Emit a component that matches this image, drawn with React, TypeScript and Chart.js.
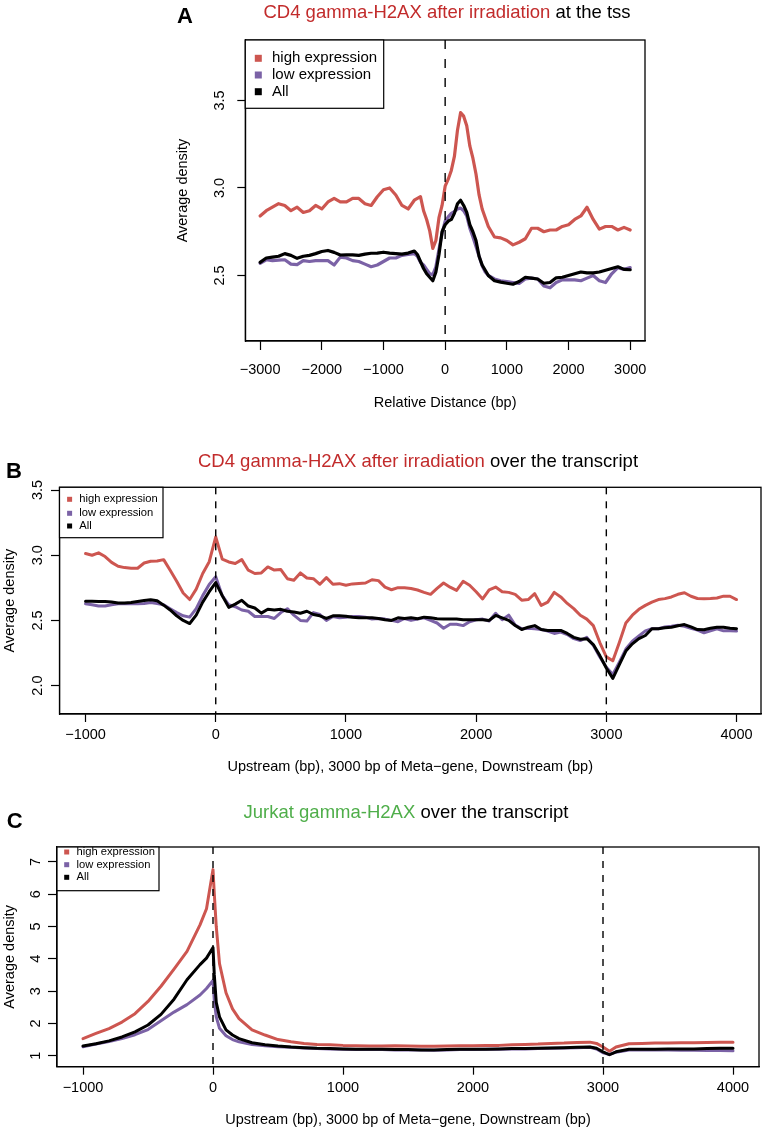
import React, { useEffect, useRef } from 'react';
import { Chart, registerables } from 'chart.js';

Chart.register(...registerables);

const FONT = '"Liberation Sans", Arial, Helvetica, sans-serif';
Chart.defaults.font.family = FONT;

const RED = '#cd5650';
const PURPLE = '#7b62a6';
const BLACK = '#000000';
const TITLE_RED = '#c22b2b';
const TITLE_GREEN = '#4fae4a';

const seriesLabels = ['high expression', 'low expression', 'All'];
const yLabel = 'Average density';

// ---------------- Panel A : at the TSS ----------------
const xA = [
  -3000, -2900, -2800, -2700, -2600, -2500, -2400, -2300, -2200, -2100,
  -2000, -1900, -1800, -1700, -1600, -1500, -1400, -1300, -1200, -1100,
  -1000, -900, -800, -700, -600,
  -500, -450, -400, -350, -300, -250, -200, -150, -100, -50,
  0, 50, 100, 150, 200, 250, 300, 350, 400, 450,
  500, 550, 600, 650, 700,
  800, 900, 1000, 1100, 1200, 1300, 1400, 1500, 1600, 1700,
  1800, 1900, 2000, 2100, 2200, 2300, 2400, 2500, 2600, 2700,
  2800, 2900, 3000,
];
const highA = [
  2.84, 2.87, 2.89, 2.91, 2.90, 2.87, 2.89, 2.86, 2.87, 2.90,
  2.88, 2.92, 2.94, 2.92, 2.92, 2.94, 2.94, 2.91, 2.90, 2.95,
  2.99, 3.00, 2.96, 2.90, 2.88,
  2.93, 2.94, 2.95, 2.87, 2.82, 2.755, 2.655, 2.70, 2.83, 2.90,
  3.01, 3.05, 3.10, 3.18, 3.33, 3.43, 3.41, 3.355, 3.24, 3.17,
  3.08, 2.96, 2.88, 2.83, 2.78,
  2.72, 2.715, 2.70, 2.675, 2.69, 2.71, 2.77, 2.77, 2.75, 2.76,
  2.76, 2.78, 2.79, 2.82, 2.84, 2.89, 2.82, 2.765, 2.78, 2.78,
  2.76, 2.775, 2.76,
];
const lowA = [
  2.57, 2.59, 2.585, 2.588, 2.59, 2.565, 2.562, 2.585, 2.58, 2.585,
  2.585, 2.585, 2.56, 2.605, 2.60, 2.585, 2.58, 2.565, 2.55, 2.56,
  2.58, 2.60, 2.60, 2.615, 2.62,
  2.625, 2.61, 2.575, 2.56, 2.535, 2.51, 2.505, 2.55, 2.65, 2.74,
  2.81, 2.835, 2.855, 2.865, 2.88, 2.885, 2.87, 2.84, 2.77, 2.72,
  2.665, 2.61, 2.555, 2.52, 2.50,
  2.48, 2.47, 2.465, 2.46, 2.455, 2.48, 2.485, 2.48, 2.44, 2.43,
  2.46, 2.475, 2.475, 2.475, 2.47, 2.485, 2.50, 2.47, 2.46, 2.51,
  2.545, 2.535, 2.545,
];
const allA = [
  2.575, 2.60, 2.605, 2.61, 2.625, 2.615, 2.598, 2.61, 2.615, 2.625,
  2.637, 2.643, 2.632, 2.617, 2.618, 2.618, 2.615, 2.622, 2.627, 2.628,
  2.633, 2.628, 2.625, 2.622, 2.628,
  2.64, 2.62, 2.58, 2.54, 2.51, 2.49, 2.47, 2.52, 2.62, 2.75,
  2.79, 2.81, 2.82, 2.855, 2.91, 2.93, 2.90, 2.86, 2.79, 2.75,
  2.70, 2.61, 2.56, 2.53, 2.50,
  2.47, 2.462, 2.456, 2.45, 2.466, 2.49, 2.485, 2.48, 2.456, 2.46,
  2.487, 2.49, 2.50, 2.51, 2.52, 2.515, 2.515, 2.52, 2.53, 2.54,
  2.55, 2.535, 2.533,
];
const xTicksA = [-3000, -2000, -1000, 0, 1000, 2000, 3000];
const yTicksA = [2.5, 3.0, 3.5];
const markersA = [0];
const titleA = [
  { text: 'CD4 gamma-H2AX after irradiation', color: TITLE_RED },
  { text: ' at the tss', color: BLACK },
];
const xLabelA = 'Relative Distance (bp)';

// ---------------- Panel B : CD4 over the transcript ----------------
const xB = [
  -1000, -950, -900, -850, -800, -750, -700, -650, -600, -550,
  -500, -450, -400, -350, -300, -250, -200, -150, -100, -50,
  0, 50, 100, 150, 200, 250, 300, 350, 400, 450,
  500, 550, 600, 650, 700, 750, 800, 850, 900, 950,
  1000, 1050, 1100, 1150, 1200, 1250, 1300, 1350, 1400, 1450,
  1500, 1550, 1600, 1650, 1700, 1750, 1800, 1850, 1900, 1950,
  2000, 2050, 2100, 2150, 2200, 2250, 2300, 2350, 2400, 2450,
  2500, 2550, 2600, 2650, 2700, 2750, 2800, 2850, 2900, 2950,
  3000, 3050, 3100, 3150, 3200, 3250, 3300, 3350, 3400, 3450,
  3500, 3550, 3600, 3650, 3700, 3750, 3800, 3850, 3900, 3950,
  4000,
];
const highB = [
  3.013, 3.00, 3.018, 2.99, 2.945, 2.915, 2.905, 2.90, 2.90, 2.94,
  2.954, 2.955, 2.966, 2.884, 2.80, 2.71, 2.66, 2.74, 2.86, 2.95,
  3.14, 2.97, 2.948, 2.936, 2.966, 2.885, 2.86, 2.864, 2.91, 2.886,
  2.89, 2.82, 2.808, 2.864, 2.825, 2.82, 2.777, 2.828, 2.777, 2.782,
  2.77, 2.78, 2.783, 2.787, 2.812, 2.805, 2.755, 2.735, 2.751, 2.75,
  2.745, 2.733, 2.715, 2.70, 2.745, 2.787, 2.755, 2.73, 2.80, 2.77,
  2.72, 2.665, 2.735, 2.756, 2.72, 2.715, 2.70, 2.655, 2.66, 2.705,
  2.615, 2.64, 2.715, 2.68, 2.63, 2.59, 2.54, 2.51, 2.46, 2.33,
  2.22, 2.19, 2.33, 2.48, 2.54, 2.585, 2.615, 2.64, 2.66, 2.667,
  2.68, 2.70, 2.712, 2.685, 2.668, 2.666, 2.668, 2.672, 2.686, 2.685,
  2.66,
];
const lowB = [
  2.628, 2.62, 2.61, 2.61, 2.62, 2.628, 2.628, 2.63, 2.627, 2.63,
  2.637, 2.63, 2.62, 2.59, 2.56, 2.535, 2.525, 2.59, 2.69, 2.775,
  2.835, 2.69, 2.62, 2.605, 2.58, 2.57, 2.53, 2.53, 2.53, 2.515,
  2.56, 2.59, 2.54, 2.50, 2.495, 2.56, 2.545, 2.50, 2.53, 2.52,
  2.525, 2.53, 2.53, 2.525, 2.51, 2.515, 2.51, 2.50, 2.49, 2.515,
  2.50, 2.51, 2.52, 2.50, 2.48, 2.44, 2.47, 2.47, 2.46, 2.49,
  2.505, 2.51, 2.495, 2.555, 2.505, 2.54, 2.465, 2.435, 2.44, 2.435,
  2.43, 2.418, 2.40, 2.41, 2.392, 2.36, 2.345, 2.37, 2.31, 2.22,
  2.14, 2.085, 2.18, 2.28, 2.34, 2.38, 2.42, 2.436, 2.436, 2.45,
  2.455, 2.462, 2.455, 2.44, 2.425, 2.405, 2.42, 2.435, 2.42, 2.42,
  2.418,
];
const allB = [
  2.646, 2.646, 2.645, 2.645, 2.641, 2.633, 2.633, 2.637, 2.645, 2.652,
  2.659, 2.65, 2.617, 2.58, 2.535, 2.50, 2.476, 2.54, 2.64, 2.72,
  2.79, 2.69, 2.60, 2.625, 2.654, 2.61, 2.595, 2.556, 2.585, 2.58,
  2.585, 2.57, 2.565, 2.555, 2.57, 2.545, 2.535, 2.515, 2.535, 2.535,
  2.532, 2.525, 2.52, 2.52, 2.52, 2.515, 2.505, 2.50, 2.52, 2.515,
  2.52, 2.513, 2.525, 2.52, 2.513, 2.51, 2.51, 2.51, 2.505, 2.505,
  2.505, 2.505, 2.50, 2.538, 2.52, 2.50, 2.461, 2.43, 2.448, 2.46,
  2.43, 2.423, 2.423, 2.423, 2.40, 2.37, 2.355, 2.36, 2.315, 2.23,
  2.135, 2.055, 2.16, 2.265, 2.32, 2.36, 2.384, 2.436, 2.436, 2.443,
  2.448, 2.459, 2.468, 2.45, 2.43, 2.428, 2.44, 2.448, 2.448, 2.44,
  2.436,
];
const xTicksB = [-1000, 0, 1000, 2000, 3000, 4000];
const yTicksB = [2.0, 2.5, 3.0, 3.5];
const markersB = [0, 3000];
const titleB = [
  { text: 'CD4 gamma-H2AX after irradiation', color: TITLE_RED },
  { text: ' over the transcript', color: BLACK },
];
const xLabelB = 'Upstream (bp), 3000 bp of Meta\u2212gene, Downstream (bp)';

// ---------------- Panel C : Jurkat over the transcript ----------------
const xC = [
  -1000, -900, -800, -700, -600, -500, -400, -300, -200, -100,
  -50, 0, 10, 25, 50, 100, 150, 200,
  300, 400, 500, 600, 700, 800, 900, 1000, 1100, 1200,
  1300, 1400, 1500, 1600, 1700, 1800, 1900, 2000, 2100, 2200,
  2300, 2400, 2500, 2600, 2700, 2800, 2900,
  2950, 3000, 3050, 3100,
  3200, 3300, 3400, 3500, 3600, 3700, 3800, 3900, 4000,
];
const highC = [
  1.53, 1.69, 1.84, 2.04, 2.30, 2.68, 3.15, 3.68, 4.23, 5.05,
  5.55, 6.76, 6.0, 5.0, 3.85, 2.95, 2.45, 2.15,
  1.80, 1.64, 1.50, 1.43, 1.38, 1.35, 1.34, 1.32, 1.31, 1.30,
  1.30, 1.31, 1.30, 1.29, 1.29, 1.30, 1.31, 1.31, 1.32, 1.32,
  1.34, 1.35, 1.36, 1.38, 1.39, 1.41, 1.42,
  1.38, 1.27, 1.14, 1.27,
  1.37, 1.38, 1.39, 1.39, 1.40, 1.40, 1.41, 1.42, 1.42,
];
const lowC = [
  1.28, 1.36, 1.44, 1.53, 1.65, 1.81, 2.08, 2.35, 2.58, 2.88,
  3.08, 3.33, 2.7, 2.2, 1.85, 1.62, 1.50, 1.43,
  1.35, 1.31, 1.28, 1.26, 1.24, 1.22, 1.21, 1.20, 1.19, 1.19,
  1.19, 1.18, 1.18, 1.18, 1.17, 1.18, 1.19, 1.19, 1.20, 1.20,
  1.21, 1.21, 1.22, 1.23, 1.24, 1.25, 1.26,
  1.21, 1.09, 1.04, 1.11,
  1.18, 1.18, 1.18, 1.18, 1.17, 1.17, 1.16, 1.16, 1.15,
];
const allC = [
  1.30, 1.37, 1.46, 1.58, 1.74, 1.95, 2.28, 2.75, 3.35, 3.82,
  4.02, 4.35, 3.5, 2.65, 2.2, 1.80, 1.64, 1.53,
  1.40, 1.34, 1.30, 1.27, 1.25, 1.23, 1.22, 1.21, 1.20, 1.20,
  1.20, 1.19, 1.19, 1.18, 1.18, 1.19, 1.20, 1.20, 1.20, 1.21,
  1.22, 1.22, 1.23, 1.24, 1.25, 1.26, 1.27,
  1.23, 1.12, 1.03, 1.12,
  1.20, 1.20, 1.20, 1.21, 1.21, 1.21, 1.22, 1.23, 1.23,
];
const xTicksC = [-1000, 0, 1000, 2000, 3000, 4000];
const yTicksC = [1, 2, 3, 4, 5, 6, 7];
const markersC = [0, 3000];
const titleC = [
  { text: 'Jurkat gamma-H2AX', color: TITLE_GREEN },
  { text: ' over the transcript', color: BLACK },
];
const xLabelC = 'Upstream (bp), 3000 bp of Meta\u2212gene, Downstream (bp)';

// ---------------- Layout specs (positions / styles only) ----------------
type Seg = { text: string; color: string };
type Spec = {
  letter: string; title: Seg[]; xs: number[]; high: number[]; low: number[]; all: number[];
  xTicks: number[]; yTicks: number[]; markers: number[]; xLabel: string; yDecimals: number;
  top: number; height: number; xMin: number; xMax: number; yMin: number; yMax: number;
  pad: { left: number; right: number; top: number; bottom: number };
  yWidth: number; xHeight: number; yTickLen: number; yTickPad: number; xTickLen: number; xTickPad: number;
  yTitlePad: number; xTitlePad: number; titleX: number; titleY: number; letterX: number; letterY: number;
  legend: { w: number; h: number; markX: number; textX: number; rows: number[]; font: number; mark: number };
  lineWidth: number; dash: number[];
};

const specs: Spec[] = [
  {
    letter: 'A', title: titleA, xs: xA, high: highA, low: lowA, all: allA,
    xTicks: xTicksA, yTicks: yTicksA, markers: markersA, xLabel: xLabelA, yDecimals: 1,
    top: 0, height: 420, xMin: -3240, xMax: 3240, yMin: 2.126, yMax: 3.845,
    pad: { left: 0, right: 118, top: 40, bottom: 0 },
    yWidth: 245.3, xHeight: 79, yTickLen: 8, yTickPad: 7.2, xTickLen: 9, xTickPad: 11.3,
    yTitlePad: 174.3, xTitlePad: 8.3, titleX: 447, titleY: 13, letterX: 185, letterY: 17,
    legend: { w: 138.4, h: 68.3, markX: 13, textX: 26.7, rows: [18.3, 35, 51.7], font: 15, mark: 7 },
    lineWidth: 3.2, dash: [9, 10],
  },
  {
    letter: 'B', title: titleB, xs: xB, high: highB, low: lowB, all: allB,
    xTicks: xTicksB, yTicks: yTicksB, markers: markersB, xLabel: xLabelB, yDecimals: 1,
    top: 420, height: 360, xMin: -1200, xMax: 4188, yMin: 1.782, yMax: 3.521,
    pad: { left: 0, right: 2, top: 67.3, bottom: 0 },
    yWidth: 59.5, xHeight: 66, yTickLen: 8.5, yTickPad: 2.9, xTickLen: 8, xTickPad: 4.3,
    yTitlePad: 1.3, xTitlePad: 4.3, titleX: 418, titleY: 42, letterX: 14, letterY: 52,
    legend: { w: 103.5, h: 50.4, markX: 10.1, textX: 19.8, rows: [12, 26, 38.7], font: 11.2, mark: 5 },
    lineWidth: 3, dash: [7, 7],
  },
  {
    letter: 'C', title: titleC, xs: xC, high: highC, low: lowC, all: allC,
    xTicks: xTicksC, yTicks: yTicksC, markers: markersC, xLabel: xLabelC, yDecimals: 0,
    top: 780, height: 349, xMin: -1200, xMax: 4200, yMin: 0.66, yMax: 7.46,
    pad: { left: 0, right: 4, top: 67, bottom: 0 },
    yWidth: 57, xHeight: 62.3, yTickLen: 9, yTickPad: 8, xTickLen: 8, xTickPad: 4.6,
    yTitlePad: 1.3, xTitlePad: 0.3, titleX: 406, titleY: 33, letterX: 14.6, letterY: 42,
    legend: { w: 102, h: 43.7, markX: 9.7, textX: 19.5, rows: [5, 17.7, 30.3], font: 11.2, mark: 5 },
    lineWidth: 3, dash: [7, 7],
  },
];

const AXIS_FONT = 14.5;
const TICK_FONT = 14.5;
const TITLE_FONT = 18.5;

function fmtX(v: number) {
  return v < 0 ? '\u2212' + Math.abs(v) : String(v);
}

function decorPlugin(spec: Spec) {
  return {
    id: 'decor' + spec.letter,
    afterDatasetsDraw(chart: any) {
      const { ctx, chartArea, scales } = chart;
      const ca = chartArea;
      ctx.save();
      // dashed marker lines
      ctx.strokeStyle = '#000';
      ctx.lineWidth = 1.4;
      ctx.setLineDash(spec.dash);
      spec.markers.forEach((m) => {
        const px = scales.x.getPixelForValue(m);
        ctx.beginPath();
        ctx.moveTo(px, ca.top);
        ctx.lineTo(px, ca.bottom);
        ctx.stroke();
      });
      ctx.setLineDash([]);
      // plot box
      ctx.lineWidth = 1.3;
      ctx.strokeRect(ca.left, ca.top, ca.right - ca.left, ca.bottom - ca.top);
      // legend
      const lg = spec.legend;
      ctx.fillStyle = '#fff';
      ctx.fillRect(ca.left, ca.top, lg.w, lg.h);
      ctx.lineWidth = 1.2;
      ctx.strokeStyle = '#000';
      ctx.strokeRect(ca.left, ca.top, lg.w, lg.h);
      ctx.font = `${lg.font}px ${FONT}`;
      ctx.textBaseline = 'middle';
      ctx.textAlign = 'left';
      chart.data.datasets.forEach((ds: any, i: number) => {
        const cy = ca.top + lg.rows[i];
        ctx.fillStyle = ds.borderColor;
        ctx.fillRect(ca.left + lg.markX - lg.mark / 2, cy - lg.mark / 2, lg.mark, lg.mark);
        ctx.fillStyle = '#000';
        ctx.fillText(ds.label, ca.left + lg.textX, cy);
      });
      // title (mixed colours)
      ctx.font = `${TITLE_FONT}px ${FONT}`;
      const total = spec.title.reduce((s, seg) => s + ctx.measureText(seg.text).width, 0);
      let x = spec.titleX - total / 2;
      spec.title.forEach((seg) => {
        ctx.fillStyle = seg.color;
        ctx.fillText(seg.text, x, spec.titleY);
        x += ctx.measureText(seg.text).width;
      });
      // panel letter
      ctx.font = `bold 22px ${FONT}`;
      ctx.textAlign = 'center';
      ctx.fillStyle = '#000';
      ctx.fillText(spec.letter, spec.letterX, spec.letterY);
      ctx.restore();
    },
  };
}

function Panel({ spec }: { spec: Spec }) {
  const ref = useRef<HTMLCanvasElement>(null);
  useEffect(() => {
    if (!ref.current) return;
    const mk = (label: string, vals: number[], color: string, order: number) => ({
      label,
      data: spec.xs.map((x, i) => ({ x, y: vals[i] })),
      borderColor: color,
      backgroundColor: color,
      borderWidth: spec.lineWidth,
      pointRadius: 0,
      tension: 0,
      fill: false,
      order,
      borderJoinStyle: 'round' as const,
      borderCapStyle: 'round' as const,
    });
    const gridOpts = (len: number) => ({
      display: true,
      drawOnChartArea: false,
      drawTicks: true,
      tickLength: len,
      color: '#000',
      tickColor: '#000',
      tickWidth: 1.2,
    });
    const chart = new Chart(ref.current, {
      type: 'line',
      data: {
        datasets: [
          mk(seriesLabels[0], spec.high, RED, 3),
          mk(seriesLabels[1], spec.low, PURPLE, 2),
          mk(seriesLabels[2], spec.all, BLACK, 1),
        ],
      },
      options: {
        animation: false,
        responsive: false,
        maintainAspectRatio: false,
        devicePixelRatio: 1,
        events: [],
        layout: { padding: spec.pad },
        plugins: { legend: { display: false }, title: { display: false }, tooltip: { enabled: false } },
        scales: {
          x: {
            type: 'linear',
            min: spec.xMin,
            max: spec.xMax,
            afterBuildTicks: (s: any) => { s.ticks = spec.xTicks.map((v) => ({ value: v })); },
            afterFit: (s: any) => { s.height = spec.xHeight; },
            grid: gridOpts(spec.xTickLen),
            border: { display: true, color: '#000', width: 1.2 },
            ticks: {
              autoSkip: false, minRotation: 0, maxRotation: 0, padding: spec.xTickPad, color: '#000',
              font: { family: FONT, size: TICK_FONT },
              callback: (v: any) => fmtX(Number(v)),
            },
            title: {
              display: true, text: spec.xLabel, color: '#000',
              font: { family: FONT, size: AXIS_FONT },
              padding: { top: 0, bottom: spec.xTitlePad },
            },
          },
          y: {
            type: 'linear',
            min: spec.yMin,
            max: spec.yMax,
            afterBuildTicks: (s: any) => { s.ticks = spec.yTicks.map((v) => ({ value: v })); },
            afterFit: (s: any) => { s.width = spec.yWidth; },
            grid: gridOpts(spec.yTickLen),
            border: { display: true, color: '#000', width: 1.2 },
            ticks: {
              autoSkip: false, minRotation: 90, maxRotation: 90, crossAlign: 'center',
              padding: spec.yTickPad, color: '#000',
              font: { family: FONT, size: TICK_FONT },
              callback: (v: any) => Number(v).toFixed(spec.yDecimals),
            },
            title: {
              display: true, text: yLabel, color: '#000',
              font: { family: FONT, size: AXIS_FONT },
              padding: { top: spec.yTitlePad, bottom: 0 },
            },
          },
        },
      } as any,
      plugins: [decorPlugin(spec)],
    });
    return () => chart.destroy();
  }, [spec]);
  return (
    <canvas
      ref={ref}
      width={763}
      height={spec.height}
      style={{ position: 'absolute', left: 0, top: spec.top, width: 763, height: spec.height }}
    />
  );
}

export default function App() {
  return (
    <div style={{ position: 'absolute', left: 0, top: 0, width: 763, height: 1129, background: '#fff' }}>
      {specs.map((s) => (
        <Panel key={s.letter} spec={s} />
      ))}
    </div>
  );
}
